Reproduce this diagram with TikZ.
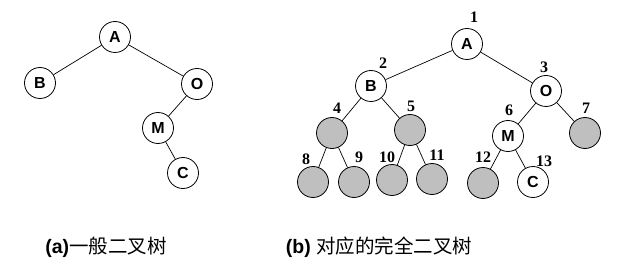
\documentclass[tikz,border=0pt]{standalone}
\usepackage{fontspec}
\setmainfont{Liberation Serif}
\setsansfont{Liberation Sans}
\newfontfamily\cjk{Noto Sans CJK SC}
\begin{document}
\begin{tikzpicture}[x=1pt,y=-1pt,
  vtx/.style={circle,draw,line width=0.8pt,minimum size=31pt,inner sep=0pt,fill=white,font=\sffamily\bfseries\fontsize{16}{16}\selectfont},
  gvtx/.style={vtx,fill=gray!50},
  num/.style={font=\bfseries\fontsize{16}{16}\selectfont,inner sep=0pt},
  edge/.style={line width=0.7pt},
  captext/.style={font=\fontsize{19.5}{20}\selectfont,inner sep=0pt}]
\useasboundingbox (0,0) rectangle (634,267);
% left tree
\node[vtx] (la) at (115,37) {A};
\node[vtx] (lb) at (40,83) {B};
\node[vtx] (lo) at (197,84) {O};
\node[vtx] (lm) at (158,128) {M};
\node[vtx] (lc) at (183,173) {C};
\draw[edge] (la) -- (lb);
\draw[edge] (la) -- (lo);
\draw[edge] (lo) -- (lm);
\draw[edge] (lm) -- (lc);
% right tree
\node[vtx] (r1) at (467,44) {A};
\node[vtx] (r2) at (371,86) {B};
\node[vtx] (r3) at (546,91) {O};
\node[gvtx] (r4) at (332,133) {};
\node[gvtx] (r5) at (410,130) {};
\node[vtx] (r6) at (508,136) {M};
\node[gvtx] (r7) at (585,133) {};
\node[gvtx] (r8) at (313,182) {};
\node[gvtx] (r9) at (354,182) {};
\node[gvtx] (r10) at (392,180) {};
\node[gvtx] (r11) at (432,179) {};
\node[gvtx] (r12) at (483,183) {};
\node[vtx] (r13) at (533,182) {C};
\foreach \p/\c in {r1/r2,r1/r3,r2/r4,r2/r5,r3/r6,r3/r7,r4/r8,r4/r9,r5/r10,r5/r11,r6/r12,r6/r13}
  \draw[edge] (\p) -- (\c);
% numbers
\node[num] (n1) at (474,17) {1};
\node[num] (n2) at (383,63) {2};
\node[num] (n3) at (544,67) {3};
\node[num] (n4) at (337,108) {4};
\node[num] (n5) at (411,106) {5};
\node[num] (n6) at (509,110) {6};
\node[num] (n7) at (586,108) {7};
\node[num] (n8) at (306,159) {8};
\node[num] (n9) at (359,157) {9};
\node[num] (n10) at (387,157) {10};
\node[num] (n11) at (437,155) {11};
\node[num] (n12) at (483,157) {12};
\node[num] (n13) at (544,161) {13};
% captions
\node[captext] (capa) at (106,247) {\sffamily\bfseries(a)\mdseries\cjk 一般二叉树};
\node[captext] (capb) at (379,247) {\sffamily\bfseries(b) \mdseries\cjk 对应的完全二叉树};
\end{tikzpicture}
\end{document}
